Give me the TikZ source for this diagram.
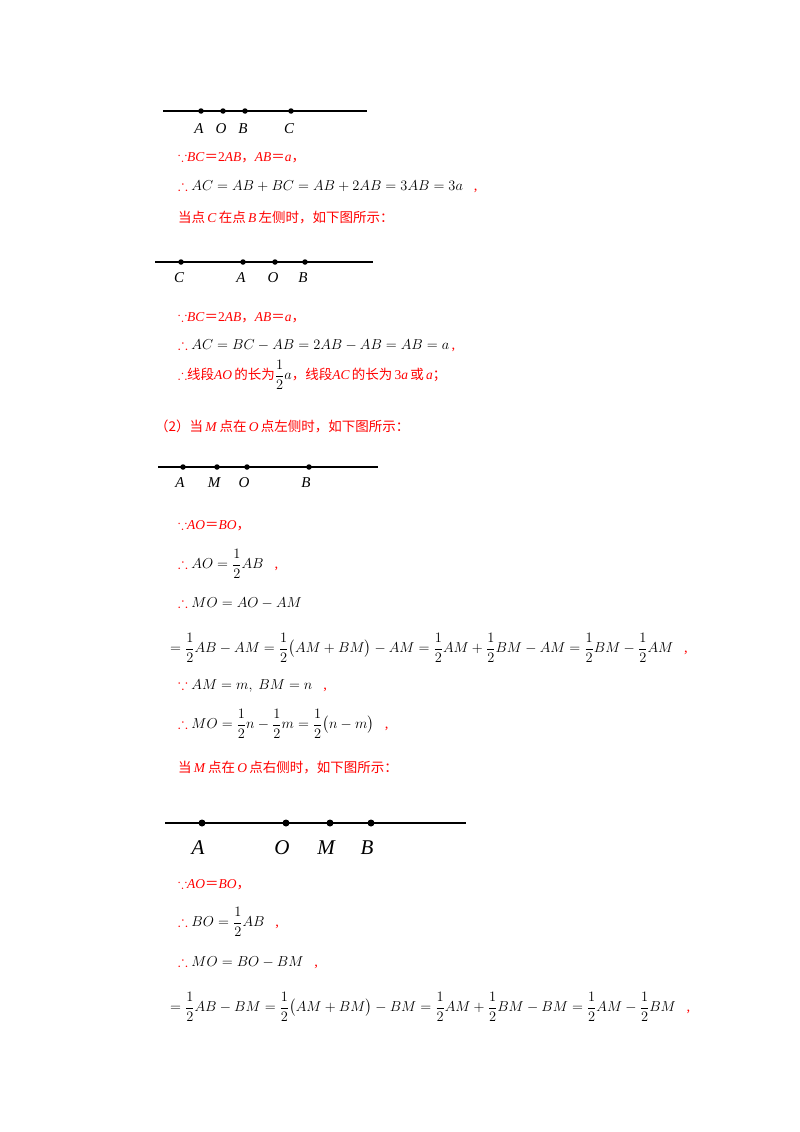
\documentclass[tikz,border=0pt]{standalone}
\usepackage{amsmath,amssymb}
\usepackage{fontspec}
\setmainfont{Liberation Serif}
\newfontfamily\cjk{Noto Sans CJK SC}
\newcommand{\zh}[1]{{\cjk #1}}
\begin{document}
\begin{tikzpicture}[x=1pt,y=-1pt,
  txt/.style={anchor=west,inner sep=0pt,font=\fontsize{13.5}{15}\selectfont,text=red},
  frm/.style={anchor=west,inner sep=0pt,font=\fontsize{14.5}{16}\selectfont},
  lbl/.style={inner sep=0pt,font=\fontsize{15}{16}\selectfont\itshape},
  biglbl/.style={inner sep=0pt,font=\fontsize{21}{22}\selectfont\itshape},
  pt/.style={circle,fill=black,inner sep=0pt,minimum size=5.5pt},
  bigpt/.style={circle,fill=black,inner sep=0pt,minimum size=7pt},
  axis/.style={line width=1.2pt}]
\useasboundingbox (0,0) rectangle (800,1132);
\newcommand{\bc}{\textcolor{red}{$\because$}}
\newcommand{\tf}{\textcolor{red}{$\therefore$}}
\newcommand{\cm}{\textcolor{red}{,}}
% line 1
\coordinate (l1a) at (163,111); \coordinate (l1b) at (367,111);
\draw[axis] (l1a) -- (l1b);
\foreach \n/\x in {A/201,O/223,B/245,C/291}{
  \node[pt] (p1\n) at (\x,111) {};
  \node[lbl] (t1\n) at (\x-2,129) {\n};}
\node[txt] (s1) at (178,158) {$\because$\textit{BC}\zh{＝}2\textit{AB}\zh{，}\textit{AB}\zh{＝}\textit{a}\zh{，}};
\node[frm] (s2) at (178,187) {\tf\ $AC=AB+BC=AB+2AB=3AB=3a$ \ \ \cm};
\node[txt] (s3) at (178,218) {\zh{当点}\,\textit{C}\,\zh{在点}\,\textit{B}\,\zh{左侧时，如下图所示：}};
% line 2
\coordinate (l2a) at (155,262); \coordinate (l2b) at (373,262);
\draw[axis] (l2a) -- (l2b);
\foreach \n/\x in {C/181,A/243,O/275,B/305}{
  \node[pt] (p2\n) at (\x,262) {};
  \node[lbl] (t2\n) at (\x-2,278) {\n};}
\node[txt] (s4) at (178,318) {$\because$\textit{BC}\zh{＝}2\textit{AB}\zh{，}\textit{AB}\zh{＝}\textit{a}\zh{，}};
\node[frm] (s5) at (178,346) {\tf\ $AC=BC-AB=2AB-AB=AB=a$\,\cm};
\node[txt] (s6) at (178,375) {$\therefore$\zh{线段}\textit{AO}\,\zh{的长为}\textcolor{black}{$\dfrac{1}{2}a$}\zh{，线段}\textit{AC}\,\zh{的长为}\,3\textit{a}\,\zh{或}\,\textit{a}\zh{；}};
\node[txt] (s7) at (155,426) {\zh{（2）当}\,\textit{M}\,\zh{点在}\,\textit{O}\,\zh{点左侧时，如下图所示：}};
% line 3
\coordinate (l3a) at (158,467); \coordinate (l3b) at (378,467);
\draw[axis] (l3a) -- (l3b);
\foreach \n/\x in {A/183,M/217,O/247,B/309}{
  \node[pt] (p3\n) at (\x,467) {};
  \node[lbl] (t3\n) at (\x-3,483) {\n};}
\node[txt] (s8) at (178,526) {$\because$\textit{AO}\zh{＝}\textit{BO}\zh{，}};
\node[frm] (s9) at (178,564) {\tf\ $AO=\dfrac{1}{2}AB$ \ \ \cm};
\node[frm] (s10) at (178,603) {\tf\ $MO=AO-AM$};
\node[frm] (s11) at (170,648) {$=\dfrac{1}{2}AB-AM=\dfrac{1}{2}\bigl(AM+BM\bigr)-AM=\dfrac{1}{2}AM+\dfrac{1}{2}BM-AM=\dfrac{1}{2}BM-\dfrac{1}{2}AM$ \ \ \cm};
\node[frm] (s12) at (178,686) {\bc\ $AM=m,\ BM=n$ \ \ \cm};
\node[frm] (s13) at (178,724) {\tf\ $MO=\dfrac{1}{2}n-\dfrac{1}{2}m=\dfrac{1}{2}\bigl(n-m\bigr)$ \ \ \cm};
\node[txt] (s14) at (178,768) {\zh{当}\,\textit{M}\,\zh{点在}\,\textit{O}\,\zh{点右侧时，如下图所示：}};
% line 4
\coordinate (l4a) at (165,823); \coordinate (l4b) at (466,823);
\draw[axis] (l4a) -- (l4b);
\foreach \n/\x in {A/202,O/286,M/330,B/371}{
  \node[bigpt] (p4\n) at (\x,823) {};
  \node[biglbl] (t4\n) at (\x-4,848) {\n};}
\node[txt] (s15) at (178,885) {$\because$\textit{AO}\zh{＝}\textit{BO}\zh{，}};
\node[frm] (s16) at (178,922) {\tf\ $BO=\dfrac{1}{2}AB$ \ \ \cm};
\node[frm] (s17) at (178,963) {\tf\ $MO=BO-BM$ \ \ \cm};
\node[frm] (s18) at (170,1007) {$=\dfrac{1}{2}AB-BM=\dfrac{1}{2}\bigl(AM+BM\bigr)-BM=\dfrac{1}{2}AM+\dfrac{1}{2}BM-BM=\dfrac{1}{2}AM-\dfrac{1}{2}BM$ \ \ \cm};
\end{tikzpicture}
\end{document}
